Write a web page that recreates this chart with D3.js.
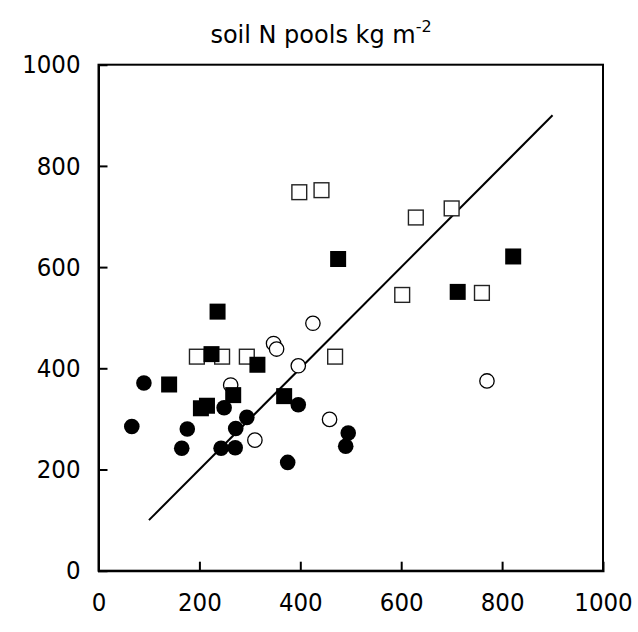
<!DOCTYPE html>
<html><head><meta charset="utf-8">
<script src="https://cdn.jsdelivr.net/npm/d3@7"></script>
<style>body{margin:0;background:#fff}</style>
</head><body>
<svg id="c" width="638" height="632"></svg>
<script>
const xTicks = [0,200,400,600,800,1000];
const yTicks = [0,200,400,600,800,1000];
const filledCircles = [[90,371],[66,285],[176,280],[165,242],[243,242],[271,243],[249,322],[272,281],[294,303],[396,328],[375,214],[495,272],[490,246]];
const openCircles = [[347,449],[353,438],[396,405],[262,367],[310,258],[425,489],[458,299],[770,375]];
const filledSquares = [[236,512],[224,428],[315,407],[140,368],[267,347],[203,321],[215,326],[368,345],[475,616],[712,551],[822,621]];
const openSquares = [[195,423],[245,423],[294,423],[398,748],[442,752],[469,423],[602,545],[629,698],[700,716],[760,549]];
const oneToOne = [[100,100],[900,900]];

const svg = d3.select("#c");
const L=98.5, R=603, T=64.7, B=570.7;
const x = d3.scaleLinear().domain([0,1000]).range([L,R]);
const y = d3.scaleLinear().domain([0,1000]).range([B,T]);
const font = "'DejaVu Sans Condensed','DejaVu Sans',sans-serif";

// frame
svg.append("rect").attr("x",L).attr("y",T).attr("width",R-L).attr("height",B-T)
  .attr("fill","none").attr("stroke","#000").attr("stroke-width",2);

// axes with inward ticks
const xAxis = d3.axisBottom(x).tickValues(xTicks).tickSize(-9).tickPadding(22).tickFormat(d3.format("d"));
const gx = svg.append("g").attr("transform",`translate(0,${B})`).call(xAxis);
const yAxis = d3.axisLeft(y).tickValues(yTicks).tickSize(-9).tickPadding(18).tickFormat(d3.format("d"));
const gy = svg.append("g").attr("transform",`translate(${L},0)`).call(yAxis);
[gx,gy].forEach(g=>{
  g.select(".domain").attr("stroke","#000").attr("stroke-width",2);
  g.selectAll(".tick line").attr("stroke","#000").attr("stroke-width",2);
  g.selectAll(".tick text").attr("font-family",font).attr("font-size",25.5).attr("fill","#000");
});
gx.selectAll(".tick").filter(d=>d===0||d===1000).select("line").remove();
gy.selectAll(".tick").filter(d=>d===0||d===1000).select("line").remove();

// 1:1 line
svg.append("line").attr("x1",x(oneToOne[0][0])).attr("y1",y(oneToOne[0][1]))
  .attr("x2",x(oneToOne[1][0])).attr("y2",y(oneToOne[1][1]))
  .attr("stroke","#000").attr("stroke-width",2);

const s = 16, r = 7.8;
svg.append("g").selectAll("circle").data(openCircles).join("circle")
  .attr("cx",d=>x(d[0])).attr("cy",d=>y(d[1])).attr("r",r-0.6)
  .attr("fill","#fff").attr("stroke","#000").attr("stroke-width",1.3);
svg.append("g").selectAll("rect").data(openSquares).join("rect")
  .attr("x",d=>x(d[0])-s/2+0.6).attr("y",d=>y(d[1])-s/2+0.6).attr("width",s-1.2).attr("height",s-1.2)
  .attr("fill","#fff").attr("stroke","#222").attr("stroke-width",1.4);
svg.append("g").selectAll("circle").data(filledCircles).join("circle")
  .attr("cx",d=>x(d[0])).attr("cy",d=>y(d[1])).attr("r",r).attr("fill","#000");
svg.append("g").selectAll("rect").data(filledSquares).join("rect")
  .attr("x",d=>x(d[0])-s/2).attr("y",d=>y(d[1])-s/2).attr("width",s).attr("height",s).attr("fill","#000");

// title
const t = svg.append("text").attr("x",321).attr("y",43).attr("text-anchor","middle")
  .attr("font-family","'DejaVu Sans',sans-serif").attr("font-size",24).attr("fill","#000");
t.append("tspan").text("soil N pools kg m");
t.append("tspan").attr("dy",-11).attr("font-size",16).text("-2");
</script>
</body></html>
